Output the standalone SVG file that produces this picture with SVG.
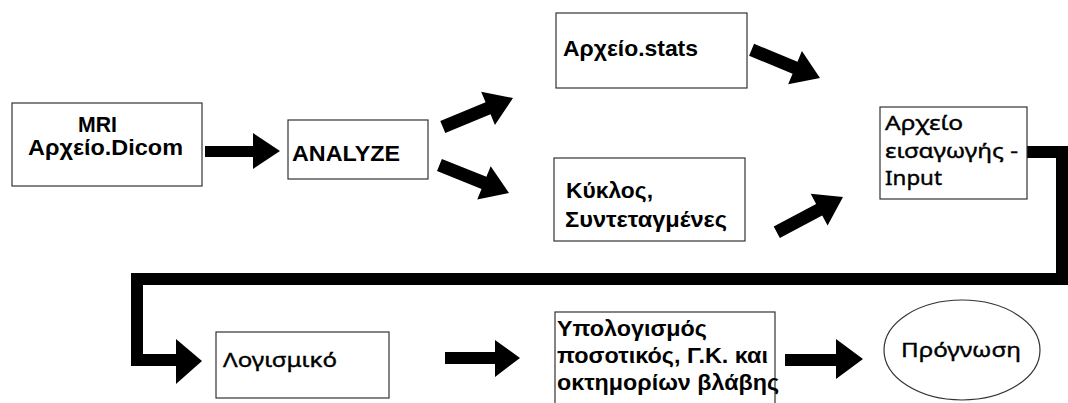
<svg xmlns="http://www.w3.org/2000/svg" width="1068" height="403" viewBox="0 0 1068 403">
<style>
.box{fill:#fff;stroke:#333;stroke-width:1.2}
.b{font-family:"Liberation Sans",Arial,sans-serif;font-weight:bold;fill:#000;font-size:22.5px}
.r{font-family:"Noto Sans","DejaVu Sans",sans-serif;fill:#000;stroke:#000;stroke-width:0.4;font-size:20px}
.arr{fill:#000}
</style>
<rect width="1068" height="403" fill="#fff"/>
<g id="connectors">
<polygon class="arr" points="205,146 253,146 253,133 280,151 253,169 253,157 205,157"/>
<g transform="translate(513,98) rotate(-22.5)"><polygon class="arr" points="-76,-6.5 -27,-6.5 -27,-18 0,0 -27,18 -27,6.5 -76,6.5"/></g>
<g transform="translate(509,193) rotate(22)"><polygon class="arr" points="-75,-6.5 -27,-6.5 -27,-18 0,0 -27,18 -27,6.5 -75,6.5"/></g>
<g transform="translate(820,78) rotate(22.4)"><polygon class="arr" points="-74,-6.5 -27,-6.5 -27,-18 0,0 -27,18 -27,6.5 -74,6.5"/></g>
<g transform="translate(843,197) rotate(-28)"><polygon class="arr" points="-75,-6.5 -27,-6.5 -27,-18 0,0 -27,18 -27,6.5 -75,6.5"/></g>
<polyline points="1027,152 1062,152 1062,279 137,279 137,360 178,360" fill="none" stroke="#000" stroke-width="12" stroke-linejoin="miter"/>
<polygon class="arr" points="176,339 202,361 176,384"/>
<polygon class="arr" points="445,352 495,352 495,340 520,358 495,377 495,364 445,364"/>
<polygon class="arr" points="785,354 836,354 836,339 863,359 836,379 836,366 785,366"/>
</g>
<g id="mri">
<rect class="box" x="12" y="103" width="190" height="83"/>
<text class="b" x="78" y="132" textLength="39" lengthAdjust="spacingAndGlyphs">MRI</text>
<text class="b" x="28" y="155" textLength="155" lengthAdjust="spacingAndGlyphs">Αρχείο.Dicom</text>
</g>
<g id="analyze">
<rect class="box" x="288" y="120" width="140" height="59"/>
<text class="b" x="292" y="161" textLength="108" lengthAdjust="spacingAndGlyphs">ANALYZE</text>
</g>
<g id="stats">
<rect class="box" x="556" y="13" width="191" height="75"/>
<text class="b" x="563" y="56" textLength="135" lengthAdjust="spacingAndGlyphs">Αρχείο.stats</text>
</g>
<g id="kyklos">
<rect class="box" x="554" y="158" width="191" height="83"/>
<text class="b" x="566" y="198" textLength="87" lengthAdjust="spacingAndGlyphs">Κύκλος,</text>
<text class="b" x="565" y="227" textLength="162" lengthAdjust="spacingAndGlyphs">Συντεταγμένες</text>
</g>
<g id="input">
<rect class="box" x="880" y="107" width="147" height="92"/>
<text class="r" x="885" y="130" textLength="78" lengthAdjust="spacingAndGlyphs">Αρχείο</text>
<text class="r" x="885" y="158" textLength="133" lengthAdjust="spacingAndGlyphs">εισαγωγής -</text>
<text class="r" x="885" y="185" textLength="57" lengthAdjust="spacingAndGlyphs">Input</text>
</g>
<g id="logismiko">
<rect class="box" x="216" y="332" width="173" height="66"/>
<text class="r" x="223" y="367" textLength="114" lengthAdjust="spacingAndGlyphs">Λογισμικό</text>
</g>
<g id="ypologismos">
<rect class="box" x="555" y="312" width="220" height="100"/>
<text class="b" x="557" y="336" textLength="150" lengthAdjust="spacingAndGlyphs">Υπολογισμός</text>
<text class="b" x="557" y="363" textLength="211" lengthAdjust="spacingAndGlyphs">ποσοτικός, Γ.Κ. και</text>
<text class="b" x="557" y="390" textLength="222" lengthAdjust="spacingAndGlyphs">οκτημορίων βλάβης</text>
</g>
<g id="prognosi">
<ellipse class="box" cx="962" cy="350" rx="78" ry="50"/>
<text class="r" x="901" y="357" textLength="120" lengthAdjust="spacingAndGlyphs">Πρόγνωση</text>
</g>
</svg>
